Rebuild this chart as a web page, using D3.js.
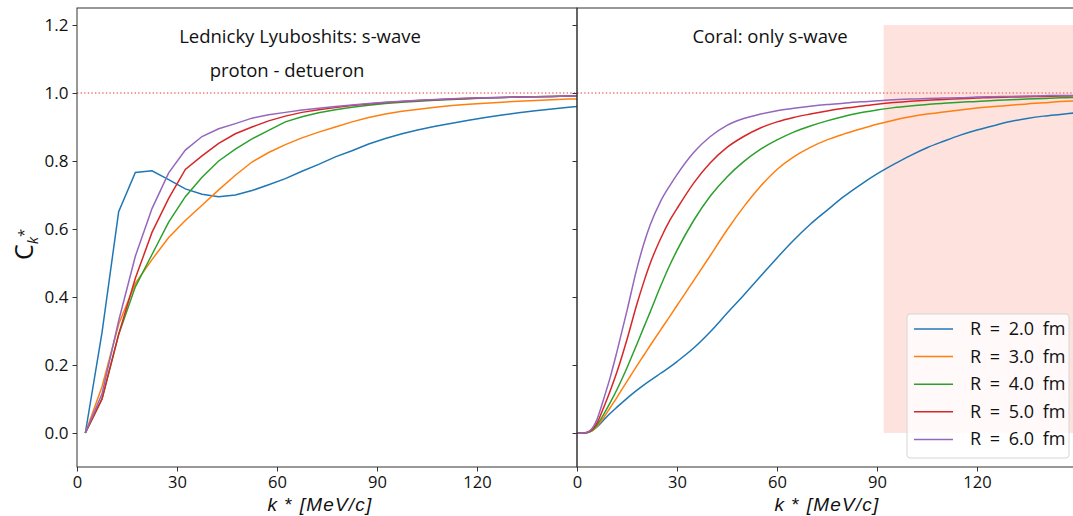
<!DOCTYPE html>
<html><head><meta charset="utf-8">
<script src="https://cdn.jsdelivr.net/npm/d3@7"></script>
<style>
body{margin:0;background:#fff;}
svg text{font-family:"Open Sans","DejaVu Sans",sans-serif;fill:#111;}
</style>
</head><body>
<svg id="chart" width="1073" height="516"></svg>
<script>
// ---------- data ----------
const seriesLabels = ["R = 2.0 fm","R = 3.0 fm","R = 4.0 fm","R = 5.0 fm","R = 6.0 fm"];
const seriesColors = ["#1f77b4","#ff7f0e","#2ca02c","#d62728","#9467bd"];
const xTicks = [0,30,60,90,120];
const yTicks = [0.0,0.2,0.4,0.6,0.8,1.0,1.2];

// Left panel: Lednicky-Lyuboshits
const leftK = [2.5,7.5,12.5,17.5,22.5,27.5,32.5,37.5,42.5,47.5,52.5,57.5,62.5,67.5,72.5,77.5,82.5,87.5,92.5,97.5,102.5,107.5,112.5,117.5,122.5,127.5,132.5,137.5,142.5,147.5,152.5];
const leftR2 = [0,0.295,0.651,0.766,0.771,0.745,0.718,0.702,0.695,0.70,0.713,0.73,0.748,0.77,0.79,0.812,0.83,0.85,0.866,0.88,0.892,0.902,0.911,0.92,0.928,0.935,0.942,0.948,0.953,0.958,0.962];
const leftR3 = [0,0.136,0.32,0.44,0.51,0.575,0.625,0.67,0.715,0.758,0.797,0.825,0.848,0.868,0.885,0.90,0.915,0.928,0.938,0.946,0.952,0.958,0.963,0.967,0.97,0.973,0.976,0.978,0.98,0.982,0.983];
const leftR4 = [0,0.10,0.29,0.43,0.525,0.62,0.695,0.752,0.80,0.835,0.865,0.89,0.915,0.93,0.942,0.951,0.958,0.964,0.969,0.973,0.976,0.979,0.981,0.983,0.985,0.987,0.988,0.989,0.99,0.991,0.992];
const leftR5 = [0,0.10,0.29,0.455,0.59,0.69,0.775,0.815,0.852,0.88,0.90,0.918,0.932,0.943,0.951,0.957,0.963,0.968,0.972,0.975,0.978,0.98,0.982,0.984,0.986,0.987,0.988,0.989,0.99,0.991,0.992];
const leftR6 = [0,0.115,0.33,0.52,0.66,0.765,0.832,0.872,0.895,0.91,0.926,0.936,0.943,0.95,0.955,0.96,0.965,0.969,0.973,0.976,0.979,0.981,0.983,0.985,0.986,0.987,0.988,0.989,0.99,0.991,0.992];

// Right panel: CorAL
const rightK = [0,2,3,4,5,6,8,10,12,15,18,20,22,25,28,30,35,40,45,50,55,60,65,70,75,80,85,90,95,100,105,110,115,120,125,130,135,140,145,150];
const rightR2 = [0,0,0.001,0.004,0.01,0.018,0.038,0.058,0.076,0.102,0.126,0.141,0.155,0.175,0.195,0.21,0.25,0.298,0.352,0.405,0.46,0.515,0.567,0.614,0.655,0.695,0.73,0.762,0.79,0.816,0.839,0.858,0.876,0.891,0.904,0.916,0.925,0.932,0.937,0.942];
const rightR3 = [0,0,0.001,0.004,0.01,0.02,0.045,0.075,0.105,0.152,0.198,0.228,0.258,0.302,0.345,0.375,0.448,0.522,0.597,0.665,0.725,0.775,0.812,0.84,0.862,0.879,0.894,0.908,0.92,0.93,0.938,0.944,0.95,0.956,0.96,0.964,0.968,0.971,0.975,0.977];
const rightR4 = [0,0,0.001,0.005,0.012,0.024,0.055,0.09,0.128,0.192,0.262,0.31,0.357,0.43,0.497,0.537,0.625,0.697,0.753,0.798,0.834,0.862,0.885,0.903,0.918,0.931,0.942,0.95,0.957,0.962,0.966,0.97,0.973,0.975,0.978,0.98,0.982,0.984,0.986,0.987];
const rightR5 = [0,0,0.002,0.006,0.015,0.03,0.075,0.125,0.18,0.275,0.38,0.443,0.5,0.57,0.628,0.66,0.735,0.795,0.84,0.872,0.897,0.915,0.928,0.938,0.947,0.955,0.961,0.967,0.972,0.976,0.979,0.981,0.983,0.985,0.987,0.988,0.989,0.99,0.991,0.992];
const rightR6 = [0,0,0.002,0.008,0.02,0.04,0.1,0.165,0.24,0.36,0.485,0.555,0.613,0.68,0.73,0.76,0.825,0.872,0.905,0.925,0.938,0.948,0.955,0.961,0.966,0.97,0.974,0.977,0.98,0.982,0.984,0.985,0.986,0.988,0.989,0.99,0.991,0.992,0.993,0.993];

const bandK = [92,150];   // shaded k* region in right panel
const bandC = [0,1.2];

// ---------- drawing ----------
const svg = d3.select("#chart");
const plotTop = 8, plotBottom = 467;
const y = d3.scaleLinear().domain([-0.1,1.25]).range([plotBottom, plotTop]);
const xL = d3.scaleLinear().domain([0,150]).range([77,577]);
const xR = d3.scaleLinear().domain([0,150]).range([577,1077]);

const defs = svg.append("defs");
[["clipL",xL],["clipR",xR]].forEach(([id,x])=>{
  defs.append("clipPath").attr("id",id).append("rect")
    .attr("x",x.range()[0]).attr("y",plotTop).attr("width",x.range()[1]-x.range()[0]).attr("height",plotBottom-plotTop);
});

// shaded band (right)
svg.append("rect")
  .attr("x",xR(bandK[0])).attr("y",y(bandC[1]))
  .attr("width",xR(bandK[1])-xR(bandK[0])).attr("height",y(bandC[0])-y(bandC[1]))
  .attr("fill","#fde2de");

// reference line at 1
[xL,xR].forEach(x=>{
  svg.append("line").attr("x1",x.range()[0]).attr("x2",x.range()[1])
    .attr("y1",y(1)).attr("y2",y(1))
    .attr("stroke","#f07a72").attr("stroke-width",1.3).attr("stroke-dasharray","1.4,2.2");
});

function drawPanel(x, kArr, sets, clip){
  const g = svg.append("g").attr("clip-path",`url(#${clip})`);
  sets.forEach((vals,i)=>{
    const line = d3.line().x((d,j)=>x(kArr[j])).y(d=>y(d)).curve(clip==="clipR"?d3.curveMonotoneX:d3.curveLinear);
    g.append("path").datum(vals).attr("d",line)
      .attr("fill","none").attr("stroke",seriesColors[i]).attr("stroke-width",1.5);
  });
}
drawPanel(xL,leftK,[leftR2,leftR3,leftR4,leftR5,leftR6],"clipL");
drawPanel(xR,rightK,[rightR2,rightR3,rightR4,rightR5,rightR6],"clipR");

// axes
function styleAxis(g,fs){
  g.selectAll(".domain").remove();
  g.selectAll(".tick line").attr("stroke","#333").attr("stroke-width",1);
  g.selectAll(".tick text").attr("font-size",fs).attr("fill","#111")
   .style("font-family",'"Open Sans","DejaVu Sans",sans-serif');
}
const yAxL = svg.append("g").attr("transform",`translate(77,0)`)
  .call(d3.axisLeft(y).tickValues(yTicks).tickFormat(d3.format(".1f")).tickSize(4.5).tickPadding(4));
styleAxis(yAxL,17);
const yAxR = svg.append("g").attr("transform",`translate(577,0)`)
  .call(d3.axisLeft(y).tickValues(yTicks).tickFormat("").tickSize(4.5));
styleAxis(yAxR,17);
const xAxL = svg.append("g").attr("transform",`translate(0,${plotBottom})`)
  .call(d3.axisBottom(xL).tickValues(xTicks).tickSize(4.5).tickPadding(5));
styleAxis(xAxL,16.5);
const xAxR = svg.append("g").attr("transform",`translate(0,${plotBottom})`)
  .call(d3.axisBottom(xR).tickValues(xTicks).tickSize(4.5).tickPadding(5));
styleAxis(xAxR,16.5);

// frames
[xL,xR].forEach(x=>{
  svg.append("rect").attr("x",x.range()[0]).attr("y",plotTop)
    .attr("width",x.range()[1]-x.range()[0]).attr("height",plotBottom-plotTop)
    .attr("fill","none").attr("stroke","#333").attr("stroke-width",1);
});

// titles
svg.append("text").attr("x",300).attr("y",43).attr("text-anchor","middle").attr("font-size",18.5).text("Lednicky Lyuboshits: s-wave");
svg.append("text").attr("x",287).attr("y",77).attr("text-anchor","middle").attr("font-size",18.5).text("proton - detueron");
svg.append("text").attr("x",770).attr("y",43).attr("text-anchor","middle").attr("font-size",18.5).text("Coral: only s-wave");

// axis labels
[[320],[827]].forEach(([cx])=>{
  const t = svg.append("text").attr("x",cx).attr("y",511).attr("text-anchor","middle")
    .attr("font-size",19).attr("font-style","italic").attr("letter-spacing",1.2)
    .style("font-family",'"Liberation Sans","DejaVu Sans",sans-serif');
  t.append("tspan").text("k");
  t.append("tspan").attr("font-style","normal").text(" * ");
  t.append("tspan").text("[MeV/c]");
});
const yl = svg.append("text").attr("transform","translate(33,260) rotate(-90)").attr("font-size",25);
yl.append("tspan").text("C");
yl.append("tspan").attr("font-size",15).attr("font-style","italic").attr("dy",5).text("k");
yl.append("tspan").attr("font-size",15).attr("dy",-9).text("*");

// legend
const lg = svg.append("g");
lg.append("rect").attr("x",907).attr("y",314).attr("width",162).attr("height",144).attr("rx",3)
  .attr("fill","#ffffff").attr("fill-opacity",0.8).attr("stroke","#d6d6d6").attr("stroke-width",1);
seriesLabels.forEach((lab,i)=>{
  const yy = 329 + i*27.6;
  lg.append("line").attr("x1",914).attr("x2",953).attr("y1",yy).attr("y2",yy)
    .attr("stroke",seriesColors[i]).attr("stroke-width",1.5);
  lg.append("text").attr("x",970).attr("y",yy+6).attr("font-size",18).attr("word-spacing",4).text(lab);
});
</script>
</body></html>
